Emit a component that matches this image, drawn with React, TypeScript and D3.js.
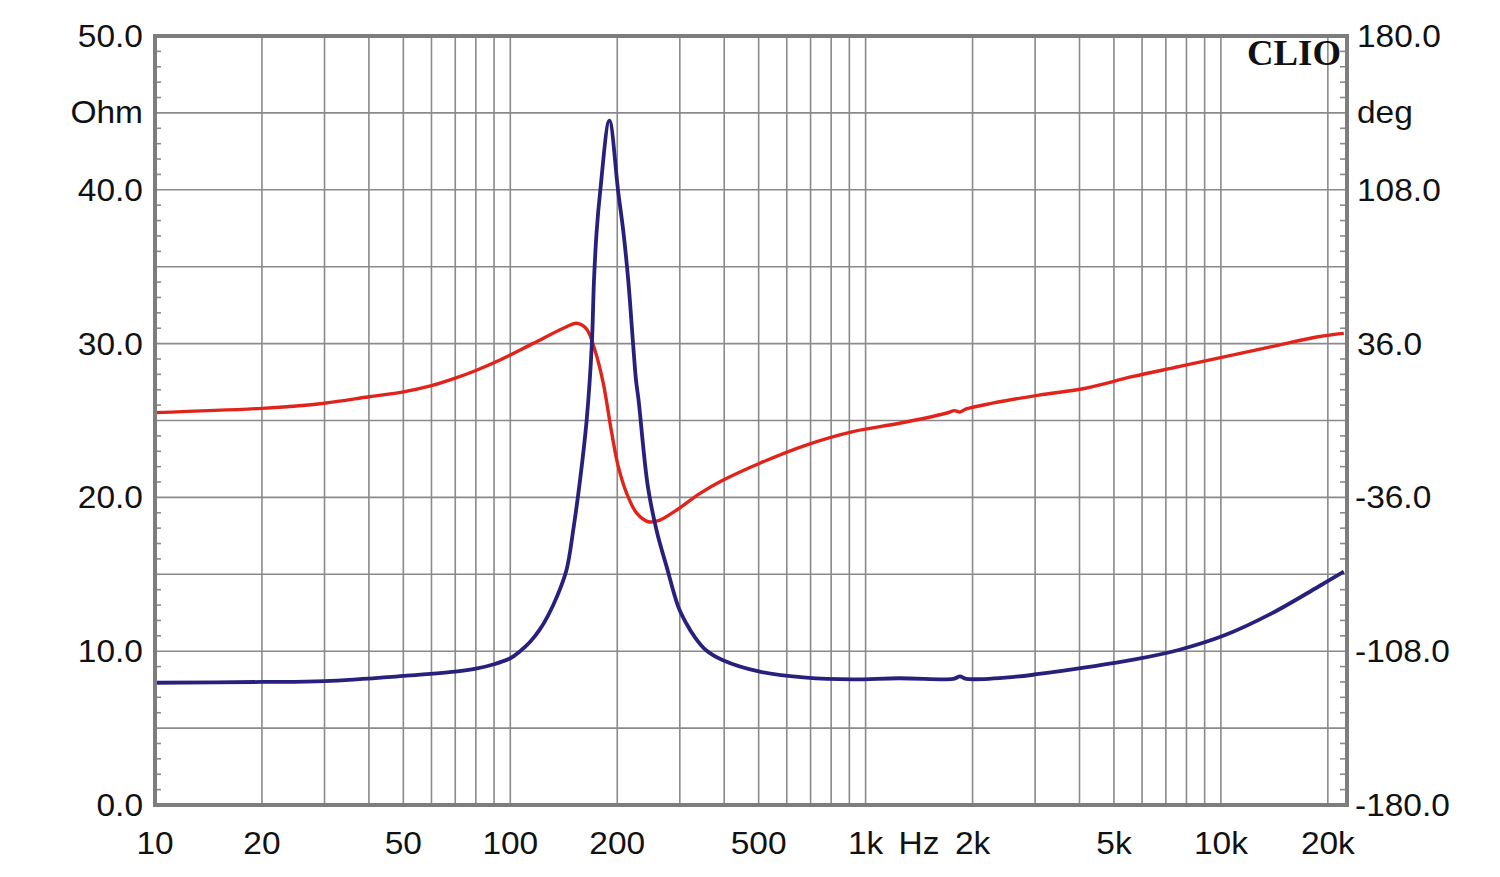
import React from "react";
import * as d3 from "d3";

// ---- data ----
const impFreq = [10, 20, 30, 50, 70, 80, 90, 100, 106.5, 113.6, 121, 127.6, 135, 144, 150.4, 157.1, 164, 169.5, 172, 175, 178.9, 190, 201.4, 208, 214.8, 221.9, 225.9, 229.7, 243.9, 259, 275.4, 296.9, 313, 330, 355, 395.4, 503.6, 680.5, 920.8, 1245, 1683, 1780, 1843, 1920, 2646, 3077, 4159, 5623, 7603, 10280, 13900, 18790, 22180];
const impOhm = [7.95, 8.0, 8.06, 8.39, 8.67, 8.86, 9.15, 9.54, 10.0, 10.6, 11.4, 12.3, 13.5, 15.3, 17.9, 21.1, 25.0, 29.8, 34.1, 37.3, 39.8, 44.5, 39.8, 37.3, 34.1, 29.8, 27.6, 26.3, 20.7, 17.7, 15.5, 12.9, 11.8, 10.94, 10.08, 9.43, 8.67, 8.28, 8.17, 8.24, 8.17, 8.22, 8.36, 8.2, 8.34, 8.52, 8.95, 9.43, 10.08, 11.05, 12.46, 14.19, 15.17];

const phaseFreq = [10, 20, 30, 40, 50, 60, 70, 80, 93.5, 116, 144, 153.8, 164, 173, 182.7, 193, 201.4, 212.6, 226.9, 244.5, 263.8, 294, 342, 397.6, 503.6, 680.5, 920.8, 1245, 1683, 1780, 1843, 1920, 2275, 3077, 4159, 5623, 7603, 10280, 13900, 18790, 22180];
const phaseDeg = [3.7, 5.7, 8.1, 11.1, 13.4, 16.3, 19.8, 23.4, 28.3, 36.1, 43.9, 45.5, 42.8, 33.0, 17.4, -6.0, -21.6, -34.1, -43.4, -47.4, -46.6, -41.9, -34.1, -27.9, -20.0, -11.5, -5.2, -1.3, 3.4, 4.6, 4.0, 5.4, 8.1, 11.9, 15.1, 20.5, 25.2, 29.9, 34.6, 39.2, 40.8];

const xTickValues = [10, 20, 50, 100, 200, 500, 1000, 2000, 5000, 10000, 20000];
const xTickLabels = ["10", "20", "50", "100", "200", "500", "1k", "2k", "5k", "10k", "20k"];
const ohmTicks = [0, 10, 20, 30, 40, 50];
const ohmTickLabels = ["0.0", "10.0", "20.0", "30.0", "40.0", "50.0"];
const degTicks = [-180, -108, -36, 36, 108, 180];
const degTickLabels = ["-180.0", "-108.0", "-36.0", "36.0", "108.0", "180.0"];

const W = 1500;
const H = 877;
const L = 155, R = 1347, T = 36, B = 805;
const FMAX = 10 * Math.pow(10, (R - L) / 355.3);

export default function App() {
  const x = d3.scaleLog().domain([10, FMAX]).range([L, R]);
  const y = d3.scaleLinear().domain([0, 50]).range([B, T]);
  const yp = d3.scaleLinear().domain([-180, 180]).range([B, T]);

  // vertical grid: 2..9 x decade, plus decade lines
  const vGrid: number[] = [];
  [10, 100, 1000, 10000].forEach((d) => {
    for (let m = 1; m <= 9; m++) {
      const f = d * m;
      if (f > 10 && f < FMAX) vGrid.push(f);
    }
  });
  const hGrid = d3.range(5, 50, 5);
  const minor = d3.range(1, 50).filter((v) => v % 5 !== 0);

  const impLine = d3
    .line<number>()
    .x((_, i) => x(impFreq[i]))
    .y((d) => y(d))
    .curve(d3.curveCatmullRom.alpha(0.5));
  const phLine = d3
    .line<number>()
    .x((_, i) => x(phaseFreq[i]))
    .y((d) => yp(d))
    .curve(d3.curveCatmullRom.alpha(0.5));

  const font = "'Liberation Sans', Arial, sans-serif";
  const fs = 31;
  const txt = "#111";
  const gridC = "#8a8a8a";

  return (
    <svg width={W} height={H} style={{ position: "absolute", left: 0, top: 0, background: "#fff" }}>
      <rect x={0} y={0} width={W} height={H} fill="#fff" />
      {hGrid.map((v) => (
        <line key={"h" + v} x1={L} x2={R} y1={y(v)} y2={y(v)} stroke={gridC} strokeWidth={1.6} />
      ))}
      {vGrid.map((f) => (
        <line key={"v" + f} x1={x(f)} x2={x(f)} y1={T} y2={B} stroke={gridC} strokeWidth={1.6} />
      ))}
      {minor.map((v) => (
        <g key={"m" + v}>
          <line x1={L} x2={L + 6} y1={y(v)} y2={y(v)} stroke={gridC} strokeWidth={1.6} />
          <line x1={R - 7} x2={R} y1={y(v)} y2={y(v)} stroke={gridC} strokeWidth={1.6} />
        </g>
      ))}
      <path d={phLine(phaseDeg) || ""} fill="none" stroke="#e0241b" strokeWidth={3.4} strokeLinejoin="round" />
      <path d={impLine(impOhm) || ""} fill="none" stroke="#27207c" strokeWidth={3.8} strokeLinejoin="round" />
      <rect x={L} y={T} width={R - L} height={B - T} fill="none" stroke="#7d7d7d" strokeWidth={4} />

      <text
        transform={`translate(${R - 6},65) scale(1.05,1)`}
        textAnchor="end"
        fontFamily="'Liberation Serif', 'Times New Roman', serif"
        fontWeight="bold"
        fontSize={35}
        fill="#111"
      >
        CLIO
      </text>

      {ohmTicks.map((v, i) => (
        <text
          key={"l" + v}
          transform={`translate(143,${y(v) + 11}) scale(1.08,1)`}
          textAnchor="end"
          fontFamily={font}
          fontSize={fs}
          fill={txt}
        >
          {ohmTickLabels[i]}
        </text>
      ))}
      <text transform={`translate(143,${y(45) + 10}) scale(1.08,1)`} textAnchor="end" fontFamily={font} fontSize={fs} fill={txt}>
        Ohm
      </text>

      {degTicks.map((v, i) => (
        <text
          key={"r" + v}
          transform={`translate(${v < 0 ? 1355 : 1357},${yp(v) + 11}) scale(1.08,1)`}
          textAnchor="start"
          fontFamily={font}
          fontSize={fs}
          fill={txt}
        >
          {degTickLabels[i]}
        </text>
      ))}
      <text transform={`translate(1357,${y(45) + 10}) scale(1.08,1)`} textAnchor="start" fontFamily={font} fontSize={fs} fill={txt}>
        deg
      </text>

      {xTickValues.map((f, i) => (
        <text
          key={"x" + f}
          transform={`translate(${x(f)},854) scale(1.08,1)`}
          textAnchor="middle"
          fontFamily={font}
          fontSize={fs}
          fill={txt}
        >
          {xTickLabels[i]}
        </text>
      ))}
      <text transform={`translate(${x(1414)},854) scale(1.08,1)`} textAnchor="middle" fontFamily={font} fontSize={fs} fill={txt}>
        Hz
      </text>
    </svg>
  );
}
